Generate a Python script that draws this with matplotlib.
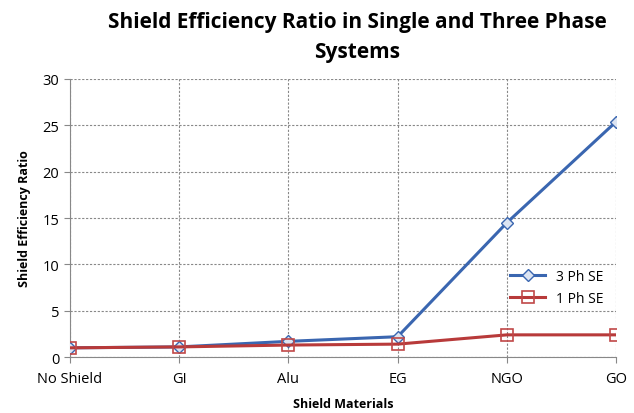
import matplotlib.pyplot as plt

# データ
categories = ["No Shield", "GI", "Alu", "EG", "NGO", "GO"]
se_3ph = [1.0, 1.1, 1.7, 2.2, 14.5, 25.4]
se_1ph = [1.0, 1.1, 1.3, 1.4, 2.4, 2.4]
y_ticks = [0, 5, 10, 15, 20, 25, 30]

plt.rcParams["font.family"] = ["Open Sans", "DejaVu Sans"]

fig = plt.figure(figsize=(6.34, 4.14), dpi=100)
ax = fig.add_axes([0.110, 0.135, 0.862, 0.672])

x = list(range(len(categories)))
ax.plot(x, se_3ph, color="#3a66b0", lw=2.2, marker="D", ms=6,
        mfc="#dce4f2", mec="#3a66b0", mew=1, label="3 Ph SE", zorder=3)
ax.plot(x, se_1ph, color="#b83a3a", lw=2.2, marker="s", ms=9,
        mfc="none", mec="#c04848", mew=1.2, label="1 Ph SE", zorder=4)

ax.set_xlim(0, len(categories) - 1)
ax.set_ylim(0, 30)
ax.set_xticks(x)
ax.set_xticklabels(categories, fontsize=10.5)
ax.set_yticks(y_ticks)
ax.tick_params(axis="y", labelsize=10.5, length=4, color="#888888")
ax.tick_params(axis="x", length=4, color="#888888", pad=6)
ax.grid(True, linestyle=(0, (2, 1.5)), color="#888888", lw=0.8)
for s in ["top", "right"]:
    ax.spines[s].set_visible(False)
for s in ["left", "bottom"]:
    ax.spines[s].set_color("#888888")

ax.set_xlabel("Shield Materials", fontsize=9, fontweight="bold", labelpad=8)
ax.set_ylabel("Shield Efficiency Ratio", fontsize=9, fontweight="bold", labelpad=8)
fig.text(0.563, 0.945, "Shield Efficiency Ratio in Single and Three Phase",
         ha="center", va="center", fontsize=15, fontweight="bold")
fig.text(0.563, 0.873, "Systems", ha="center", va="center",
         fontsize=15, fontweight="bold")

ax.legend(loc="center right", bbox_to_anchor=(1.0, 0.25), frameon=False,
          fontsize=10, handlelength=2.5, labelspacing=0.5)

fig.savefig("out.png")
